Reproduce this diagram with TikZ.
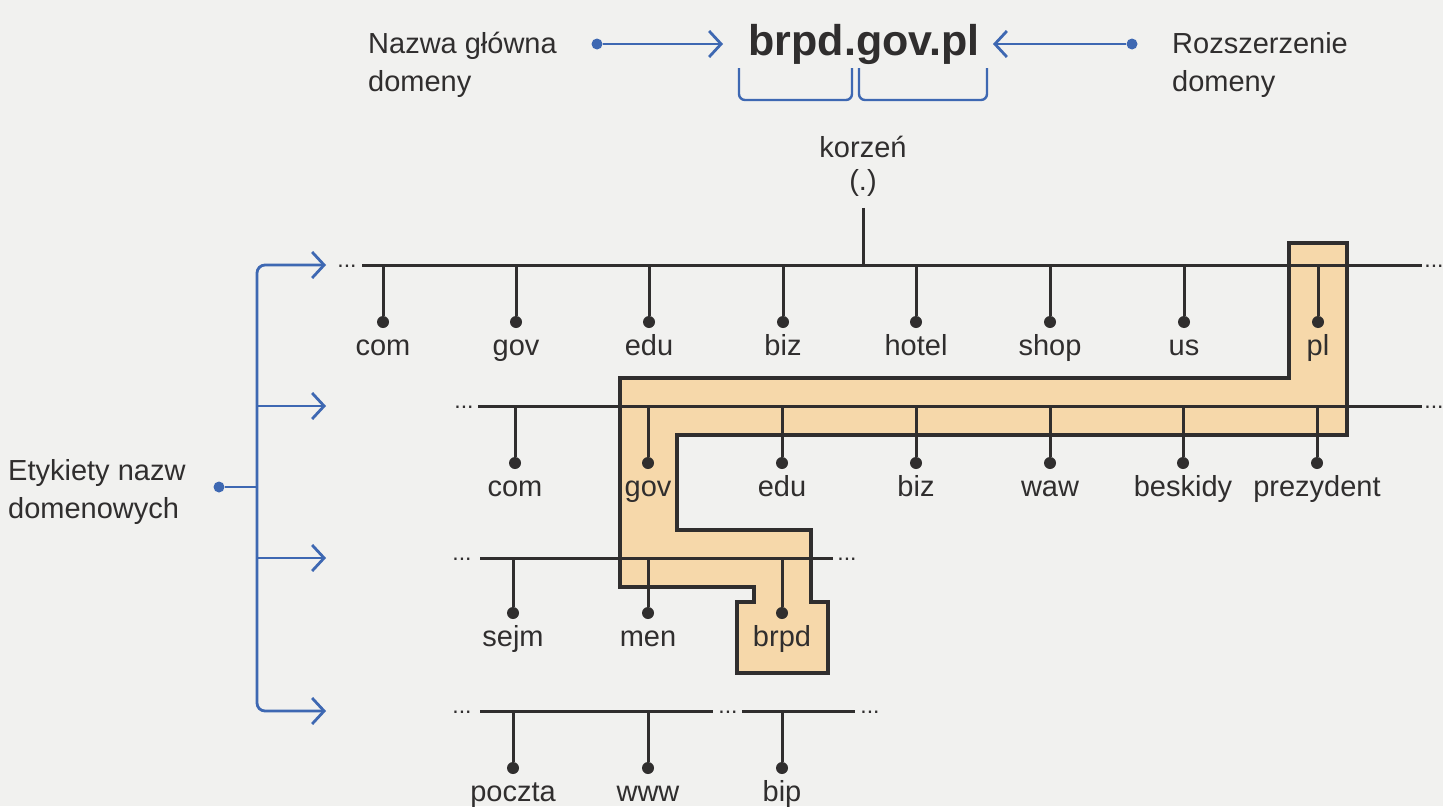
\documentclass[tikz,border=0pt]{standalone}
\usepackage{fontspec}
\setmainfont{Liberation Sans}
\usetikzlibrary{arrows.meta,positioning}
\definecolor{paper}{RGB}{241,241,239}
\definecolor{ink}{RGB}{48,46,46}
\definecolor{blu}{RGB}{62,104,178}
\definecolor{hilite}{RGB}{246,216,170}

\begin{document}
\begin{tikzpicture}[x=1pt,y=1pt,
    >={Straight Barb[length=12pt,width=26pt]},
    txt/.style={font=\fontsize{29}{38}\selectfont, text=ink, inner sep=0pt},
    lbl/.style={txt, text height=21pt, text depth=7pt, anchor=north},
    more/.style={font=\fontsize{23}{23}\selectfont, text=ink, inner sep=0pt, anchor=base},
    tree/.style={draw=ink, line width=3pt},
    dot/.style={circle, fill=ink, inner sep=0pt, minimum size=12pt},
    bdot/.style={circle, fill=blu, inner sep=0pt, minimum size=11pt},
    pointer/.style={draw=blu, line width=2.8pt}]

    \useasboundingbox (0,0) rectangle (1443,-806);
    \fill[paper] (0,0) rectangle (1443,-806);

    % Domain name and its parts
    \node[txt, align=left, anchor=north west] (nazwa) at (368,-32) {Nazwa główna\\domeny};
    \node[txt, font=\fontsize{43}{43}\selectfont\bfseries, anchor=base] (adres) at (864,-55) {brpd.gov.pl};
    \node[txt, align=left, anchor=north west] (rozsz) at (1172,-32) {Rozszerzenie\\domeny};
    \node[bdot] (nazwa-dot) at (597,-44) {};
    \node[bdot] (rozsz-dot) at (1132,-44) {};
    \coordinate (adres-in) at (723,-44);
    \coordinate (ext-in) at (993,-44);
    \draw[pointer,->] (nazwa-dot) -- (adres-in);
    \draw[pointer,->] (rozsz-dot) -- (ext-in);
    \draw[pointer, line width=2.4pt, rounded corners=6pt] (739,-68) |- (852,-100) -- (852,-68);
    \draw[pointer, line width=2.4pt, rounded corners=6pt] (859,-68) |- (987,-100) -- (987,-68);

    % Path of brpd.gov.pl in the tree
    \filldraw[fill=hilite, draw=ink, line width=4pt]
        (1289,-243) -- (1347,-243) -- (1347,-435) -- (677,-435) -- (677,-530)
        -- (811,-530) -- (811,-602) -- (828,-602) -- (828,-673) -- (737,-673)
        -- (737,-602) -- (754,-602) -- (754,-587) -- (620,-587) -- (620,-378)
        -- (1289,-378) -- cycle;

    % Root
    \node[txt, font=\fontsize{29}{33}\selectfont, align=center, anchor=north] (root) at (863,-136) {korzeń\\(.)};
    \coordinate (l1) at (863,-265);
    \draw[tree, shorten <=11pt] (root) -- (l1);

    % Level lines
    \coordinate (r1w) at (362,-265); \coordinate (r1e) at (1422,-265);
    \coordinate (r2w) at (478,-406); \coordinate (r2e) at (1422,-406);
    \coordinate (r3w) at (480,-558); \coordinate (r3e) at (833,-558);
    \coordinate (r4w) at (480,-711); \coordinate (r4m) at (713,-711);
    \coordinate (r4n) at (742,-711); \coordinate (r4e) at (855,-711);
    \draw[tree] (r1w) -- (r1e);
    \draw[tree] (r2w) -- (r2e);
    \draw[tree] (r3w) -- (r3e);
    \draw[tree] (r4w) -- (r4m);
    \draw[tree] (r4n) -- (r4e);
    \node[more] (m1w) at (347,-267.5) {...};
    \node[more] (m1e) at (1434,-267.5) {...};
    \node[more] (m2w) at (464,-408.5) {...};
    \node[more] (m2e) at (1434,-408.5) {...};
    \node[more] (m3w) at (462,-560.5) {...};
    \node[more] (m3e) at (847,-560.5) {...};
    \node[more] (m4w) at (462,-713.5) {...};
    \node[more] (m4m) at (728,-713.5) {...};
    \node[more] (m4e) at (870,-713.5) {...};

    % Labels of the four levels
    \foreach \x/\name [count=\i] in {383/com,516/gov,649/edu,783/biz,916/hotel,1050/shop,1184/us,1318/pl} {
        \node[dot] (a\i) at (\x,-322) {};
        \draw[tree] (a\i |- r1w) -- (a\i);
        \node[lbl, below=6pt of a\i] (la\i) {\name};
    }
    \foreach \x/\name [count=\i] in {515/com,648/gov,782/edu,916/biz,1050/waw,1183/beskidy,1317/prezydent} {
        \node[dot] (b\i) at (\x,-463) {};
        \draw[tree] (b\i |- r2w) -- (b\i);
        \node[lbl, below=6pt of b\i] (lb\i) {\name};
    }
    \foreach \x/\name [count=\i] in {513/sejm,648/men,782/brpd} {
        \node[dot] (c\i) at (\x,-613) {};
        \draw[tree] (c\i |- r3w) -- (c\i);
        \node[lbl, below=6pt of c\i] (lc\i) {\name};
    }
    \foreach \x/\name [count=\i] in {513/poczta,648/www,782/bip} {
        \node[dot] (d\i) at (\x,-768) {};
        \draw[tree] (d\i |- r4w) -- (d\i);
        \node[lbl, below=6pt of d\i] (ld\i) {\name};
    }

    % Domain labels bracket
    \coordinate (t1) at (326,-265);
    \coordinate (t2) at (326,-406);
    \coordinate (t3) at (326,-558);
    \coordinate (t4) at (326,-711);
    \coordinate (spine) at (257,-487);
    \draw[pointer, <->, rounded corners=8pt] (t1) -| (spine) |- (t4);
    \draw[pointer, ->] (spine |- t2) -- (t2);
    \draw[pointer, ->] (spine |- t3) -- (t3);
    \node[bdot] (etyk-dot) at (219,-487) {};
    \draw[pointer] (etyk-dot) -- (spine);
    \node[txt, align=left, anchor=north west] (etyk) at (8,-459) {Etykiety nazw\\domenowych};
\end{tikzpicture}
\end{document}
